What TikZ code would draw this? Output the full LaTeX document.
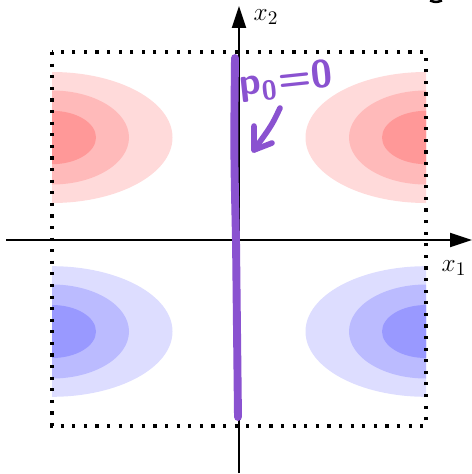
\documentclass[tikz,border=0pt]{standalone}
\usetikzlibrary{arrows.meta}
\definecolor{handpurple}{RGB}{138,82,208}
\definecolor{redA}{RGB}{255,218,218}
\definecolor{redB}{RGB}{255,186,186}
\definecolor{redC}{RGB}{255,152,152}
\definecolor{blueA}{RGB}{221,221,255}
\definecolor{blueB}{RGB}{187,187,255}
\definecolor{blueC}{RGB}{153,153,255}
\begin{document}
\begin{tikzpicture}[x=0.02cm, y=-0.02cm,
  axis/.style={line width=1.1pt, -{Triangle[length=12.5pt,width=8pt]}},
  box/.style={line width=1.8pt, dash pattern=on 1.8pt off 4.8pt},
  hand/.style={handpurple, line width=4.5pt, line cap=round, line join=round}]
\useasboundingbox (0,0) rectangle (472,474);

% contour lobes, cut by the box
\begin{scope}
\clip (52,52) rectangle (426,426);
\foreach \cx in {52,426} {
  \fill[redA] (\cx,137.5) ellipse [x radius=120.5, y radius=65.5];
  \fill[redB] (\cx,137.5) ellipse [x radius=77, y radius=47];
  \fill[redC] (\cx,137.5) ellipse [x radius=44, y radius=26.7];
  \fill[blueA] (\cx,331.5) ellipse [x radius=120.5, y radius=65.3];
  \fill[blueB] (\cx,331.5) ellipse [x radius=77, y radius=47];
  \fill[blueC] (\cx,331.5) ellipse [x radius=44, y radius=26.5];
}
\end{scope}

\draw[box] (52,52) rectangle (426,426);

% axes
\coordinate (xs) at (6,240);
\coordinate (xe) at (472,240);
\coordinate (ys) at (239,473);
\coordinate (ye) at (239,6);
\draw[axis] (xs) -- (xe);
\draw[axis] (ys) -- (ye);
\node[font=\fontsize{15}{18}\selectfont] (l1) at (454,268) {$x_1$};
\node[font=\fontsize{15}{18}\selectfont] (l2) at (266,17) {$x_2$};

% hand-written note
\coordinate (pt) at (235,58);
\coordinate (pm) at (236,240);
\coordinate (pb) at (238,417);
\draw[hand] (pt) .. controls (234,150) .. (pm) .. controls (237,330) .. (pb);
\node[handpurple, rotate=6, inner sep=0pt, font=\sffamily\bfseries\fontsize{22}{26}\selectfont] (note) at (286,81)
  {p\textsubscript{0}\kern1pt=0};
\coordinate (as) at (280,108);
\coordinate (at) at (254,150);
\draw[hand, line width=3.2pt] (as) .. controls (272,125) .. (at);
\draw[hand, line width=3.2pt] (254,126) -- (at) -- (272,143);

% cut-off mark at the top edge
\draw[line width=1.4pt] (430,0.5) .. controls (436,2.5) .. (442,0.5);
\end{tikzpicture}
\end{document}
